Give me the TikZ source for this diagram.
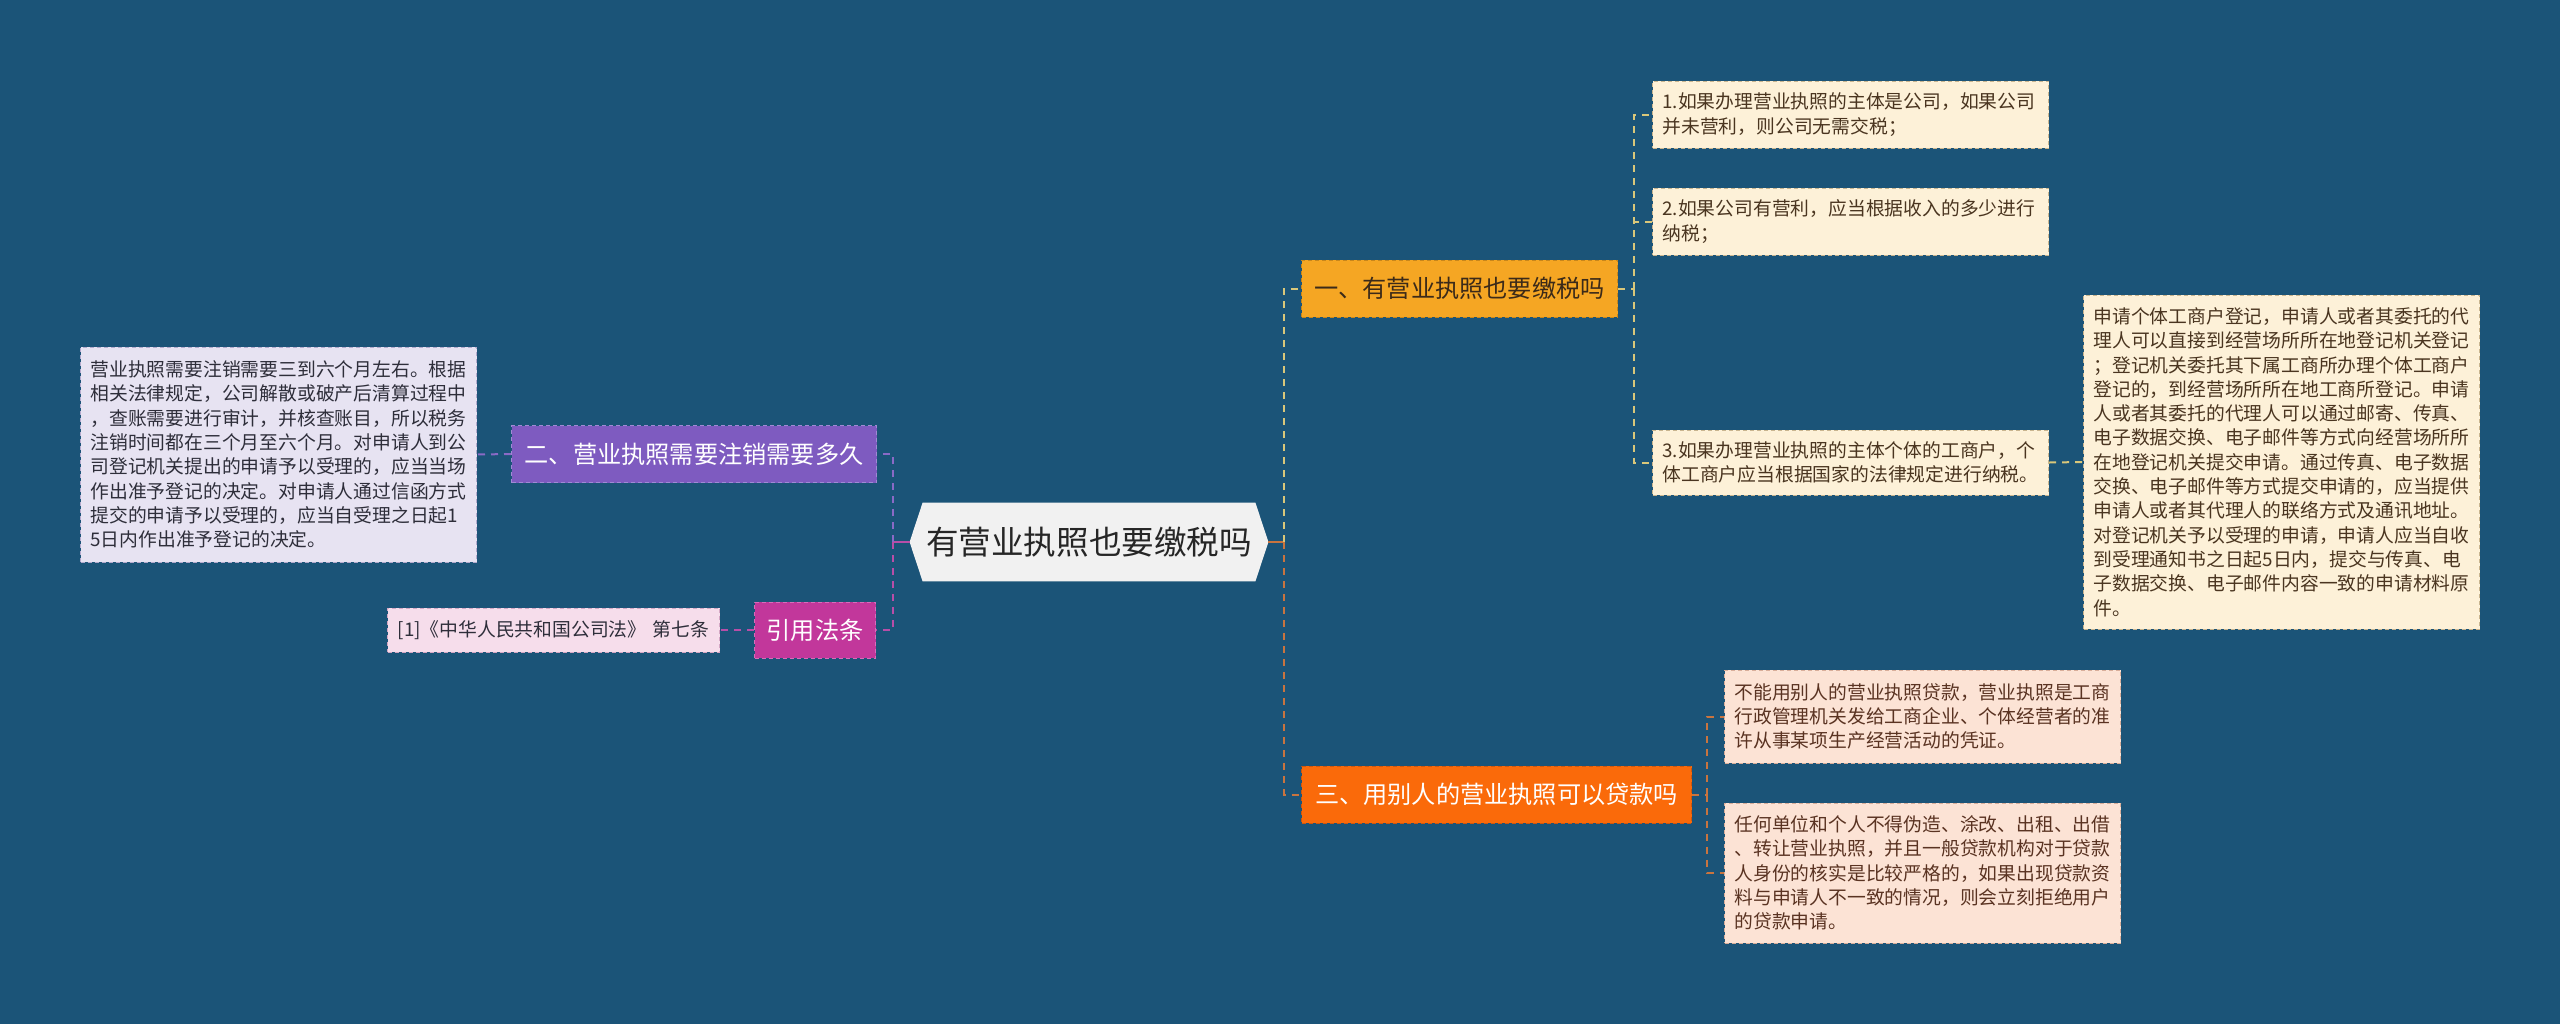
\documentclass[tikz,border=0pt]{standalone}
\usepackage{fontspec}
\setmainfont{Noto Sans CJK SC}
\usetikzlibrary{backgrounds}
\definecolor{bgblue}{RGB}{27,84,120}
\definecolor{rootfill}{HTML}{F1F1F1}
\definecolor{yelbranch}{HTML}{F5A623}
\definecolor{yelborder}{HTML}{C8861A}
\definecolor{redbranch}{HTML}{FA6A0A}
\definecolor{redborder}{HTML}{D0560C}
\definecolor{purbranch}{HTML}{7E5BC0}
\definecolor{purborder}{HTML}{A08AD4}
\definecolor{magbranch}{HTML}{C2379B}
\definecolor{magborder}{HTML}{DA6CBA}
\definecolor{cream}{HTML}{FDF1D8}
\definecolor{creamborder}{HTML}{C9B58F}
\definecolor{salmon}{HTML}{FCE3D5}
\definecolor{salmonborder}{HTML}{D9AE9A}
\definecolor{lavender}{HTML}{E7E3F2}
\definecolor{lavborder}{HTML}{B3AACD}
\definecolor{pinkleaf}{HTML}{F6DDEB}
\definecolor{pinkborder}{HTML}{D4A7C4}
\definecolor{lnyellow}{HTML}{D9C77A}
\definecolor{lnorange}{HTML}{C8743F}
\definecolor{lnpurple}{HTML}{8A6AC6}
\definecolor{lnmagenta}{HTML}{B84EA8}
\definecolor{creamtext}{HTML}{4A3520}
\definecolor{salmontext}{HTML}{5A3322}
\definecolor{darktext}{HTML}{2E2E3A}
\begin{document}
\begin{tikzpicture}[x=0.5pt,y=-0.5pt,
  leaf/.style 2 args={fill=#1,draw=#2,dash pattern=on 2pt off 1.5pt,line width=0.5pt,
    align=left,anchor=west,text width=188pt,inner xsep=5pt,inner ysep=0pt,
    font=\fontsize{9.4}{12.15}\selectfont},
  branch/.style 2 args={fill=#1,draw=#2,dash pattern=on 2pt off 1.5pt,line width=0.5pt,
    minimum height=28.5pt,inner sep=0pt,font=\fontsize{12.1}{14}\selectfont},
  link/.style={line width=1pt,dash pattern=on 3.5pt off 3pt},
  stub/.style={line width=1.2pt}]

  \node[minimum width=179pt,minimum height=39pt,inner sep=0pt,text=black!85,
    font=\fontsize{16.3}{18}\selectfont] (root) at (1089,542) {有营业执照也要缴税吗};

  \node[branch={yelbranch}{yelborder},anchor=west,minimum width=158pt,text=creamtext!80!black]
    (tax) at (1301,288.5) {一、有营业执照也要缴税吗};
  \node[branch={redbranch}{redborder},anchor=west,minimum width=195pt,text=white]
    (loan) at (1301,794.5) {三、用别人的营业执照可以贷款吗};
  \node[branch={purbranch}{purborder},anchor=east,minimum width=182.5pt,text=white]
    (cancel) at (877,454) {二、营业执照需要注销需要多久};
  \node[branch={magbranch}{magborder},anchor=east,minimum width=60.5pt,minimum height=28pt,text=white]
    (law) at (876,630) {引用法条};

  \node[leaf={cream}{creamborder},minimum height=33.5pt,text=creamtext] (company) at (1652,114.5)
    {1.如果办理营业执照的主体是公司，如果公司\\并未营利，则公司无需交税；};
  \node[leaf={cream}{creamborder},minimum height=33.5pt,text=creamtext] (profit) at (1652,221.5)
    {2.如果公司有营利，应当根据收入的多少进行\\纳税；};
  \node[leaf={cream}{creamborder},minimum height=32.5pt,text=creamtext] (household) at (1652,462.5)
    {3.如果办理营业执照的主体个体的工商户，个\\体工商户应当根据国家的法律规定进行纳税。};
  \node[leaf={cream}{creamborder},minimum height=167pt,text=creamtext] (register) at (2083,462)
    {申请个体工商户登记，申请人或者其委托的代\\理人可以直接到经营场所所在地登记机关登记\\；登记机关委托其下属工商所办理个体工商户\\登记的，到经营场所所在地工商所登记。申请\\人或者其委托的代理人可以通过邮寄、传真、\\电子数据交换、电子邮件等方式向经营场所所\\在地登记机关提交申请。通过传真、电子数据\\交换、电子邮件等方式提交申请的，应当提供\\申请人或者其代理人的联络方式及通讯地址。\\对登记机关予以受理的申请，申请人应当自收\\到受理通知书之日起5日内，提交与传真、电\\子数据交换、电子邮件内容一致的申请材料原\\件。};
  \node[leaf={salmon}{salmonborder},minimum height=46.5pt,text=salmontext] (permit) at (1724,716.5)
    {不能用别人的营业执照贷款，营业执照是工商\\行政管理机关发给工商企业、个体经营者的准\\许从事某项生产经营活动的凭证。};
  \node[leaf={salmon}{salmonborder},minimum height=70pt,text=salmontext] (forge) at (1724,873)
    {任何单位和个人不得伪造、涂改、出租、出借\\、转让营业执照，并且一般贷款机构对于贷款\\人身份的核实是比较严格的，如果出现贷款资\\料与申请人不一致的情况，则会立刻拒绝用户\\的贷款申请。};
  \node[leaf={lavender}{lavborder},minimum height=107.5pt,text=darktext] (months) at (80,454.5)
    {营业执照需要注销需要三到六个月左右。根据\\相关法律规定，公司解散或破产后清算过程中\\，查账需要进行审计，并核查账目，所以税务\\注销时间都在三个月至六个月。对申请人到公\\司登记机关提出的申请予以受理的，应当当场\\作出准予登记的决定。对申请人通过信函方式\\提交的申请予以受理的，应当自受理之日起1\\5日内作出准予登记的决定。};
  \node[leaf={pinkleaf}{pinkborder},text width=156pt,align=center,minimum height=22pt,text=darktext]
    (article) at (387,630) {[1]《中华人民共和国公司法》 第七条};

  \coordinate (rj) at (1284,542);
  \coordinate (lj) at (893,542);
  \coordinate (tj) at (1634,288.5);
  \coordinate (dj) at (1707,794.5);

  \draw[stub,lnorange] (root.east) -- (rj);
  \draw[link,lnyellow] (rj) |- (tax.west);
  \draw[link,lnorange] (rj) |- (loan.west);
  \draw[stub,lnmagenta] (root.west) -- (lj);
  \draw[link,lnpurple] (lj) |- (cancel.east);
  \draw[link,lnmagenta] (lj) |- (law.east);

  \draw[link,lnyellow] (tax.east) -- (tj);
  \draw[link,lnyellow] (tj) |- (company.west);
  \draw[link,lnyellow] (tj) |- (profit.west);
  \draw[link,lnyellow] (tj) |- (household.west);
  \draw[link,lnyellow] (household.east) -- (register.west);
  \draw[link,lnorange] (loan.east) -- (dj);
  \draw[link,lnorange] (dj) |- (permit.west);
  \draw[link,lnorange] (dj) |- (forge.west);
  \draw[link,lnpurple] (cancel.west) -- (months.east);
  \draw[link,lnmagenta] (law.west) -- (article.east);

  \begin{scope}[on background layer]
    \fill[bgblue] (0,0) rectangle (2560,1024);
    \fill[rootfill] (root.west) -- ([xshift=6.5pt]root.north west) -- ([xshift=-6.5pt]root.north east)
      -- (root.east) -- ([xshift=-6.5pt]root.south east) -- ([xshift=6.5pt]root.south west) -- cycle;
  \end{scope}
\end{tikzpicture}
\end{document}
